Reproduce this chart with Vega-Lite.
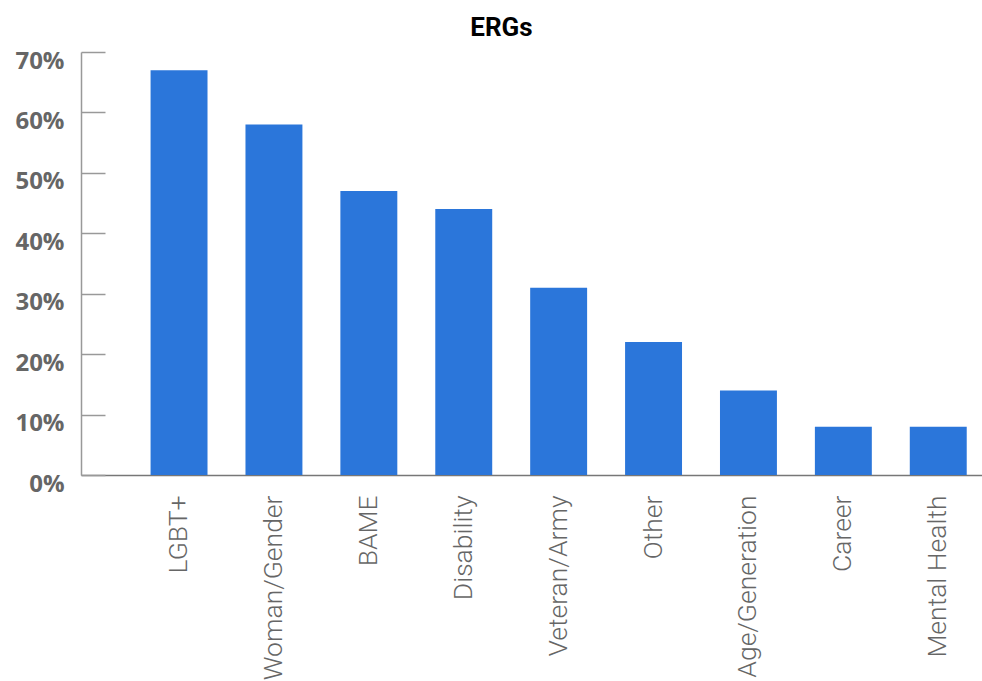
{
  "$schema": "https://vega.github.io/schema/vega-lite/v6.json",
  "width": 901,
  "height": 423,
  "autosize": {"type": "none"},
  "padding": {"left": 81, "top": 52, "right": 0, "bottom": 206},
  "title": {
    "text": "ERGs",
    "font": "Roboto",
    "fontSize": 26,
    "fontWeight": "bold",
    "color": "#000000",
    "anchor": "middle",
    "dx": -30,
    "offset": 8
  },
  "data": {
    "values": [
      {"group": "LGBT+", "pct": 67},
      {"group": "Woman/Gender", "pct": 58},
      {"group": "BAME", "pct": 47},
      {"group": "Disability", "pct": 44},
      {"group": "Veteran/Army", "pct": 31},
      {"group": "Other", "pct": 22},
      {"group": "Age/Generation", "pct": 14},
      {"group": "Career", "pct": 8},
      {"group": "Mental Health", "pct": 8}
    ]
  },
  "mark": {"type": "bar", "color": "#2B76DA"},
  "encoding": {
    "x": {
      "field": "group",
      "type": "nominal",
      "sort": null,
      "scale": {"paddingInner": 0.4, "paddingOuter": 0.447, "align": 0.82},
      "axis": {
        "title": null,
        "labelAngle": -90,
        "labelFont": "Roboto",
        "labelFontWeight": 300,
        "labelFontSize": 26.5,
        "labelColor": "#666666",
        "labelPadding": 20,
        "labelLimit": 0,
        "ticks": false,
        "domainColor": "#777777",
        "domainWidth": 1.5,
        "grid": false
      }
    },
    "y": {
      "field": "pct",
      "type": "quantitative",
      "scale": {"domain": [0, 70], "nice": false},
      "axis": {
        "title": null,
        "values": [0, 10, 20, 30, 40, 50, 60, 70],
        "labelExpr": "datum.value + '%'",
        "labelFont": "Open Sans",
        "labelFontWeight": "bold",
        "labelFontSize": 24,
        "labelColor": "#666666",
        "labelOffset": 9,
        "labelPadding": 41,
        "tickSize": -24,
        "tickColor": "#999999",
        "tickWidth": 1.5,
        "domainColor": "#999999",
        "domainWidth": 1.5,
        "grid": false
      }
    }
  },
  "config": {"view": {"stroke": null}}
}
